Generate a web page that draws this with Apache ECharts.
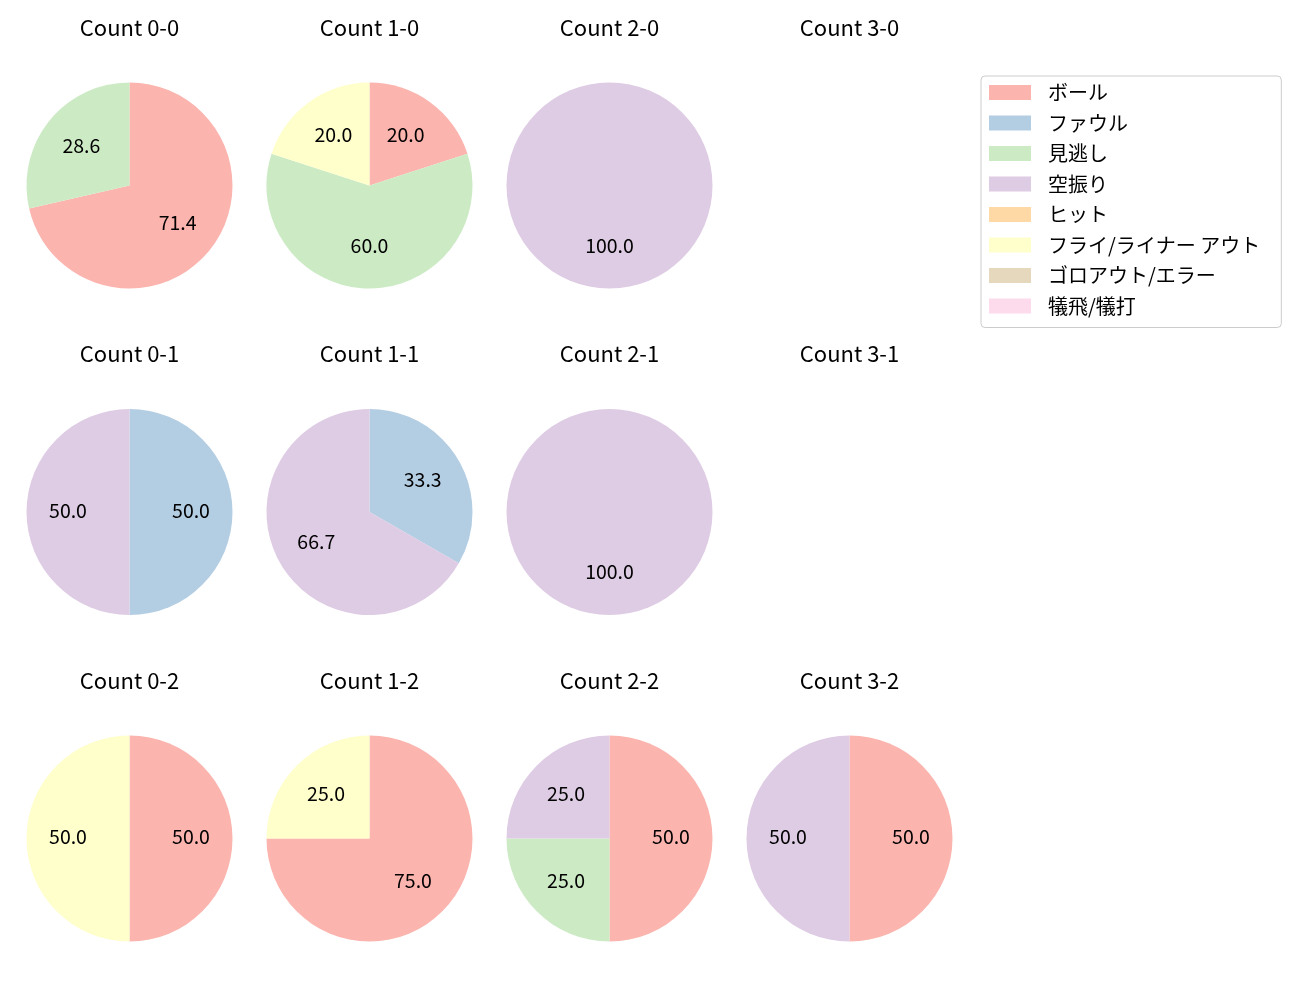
<!DOCTYPE html>
<html><head><meta charset="utf-8">
<script src="https://cdn.jsdelivr.net/npm/echarts@6/dist/echarts.min.js"></script>
<style>html,body{margin:0;padding:0;background:#fff}#c{width:1300px;height:1000px}</style>
</head><body><div id="c"></div>
<script>
const categories = ['ボール','ファウル','見逃し','空振り','ヒット','フライ/ライナー アウト','ゴロアウト/エラー','犠飛/犠打'];
const colors = ['#fbb4ae','#b3cde3','#ccebc5','#decbe4','#fed9a6','#ffffcc','#e5d8bd','#fddaec'];
const counts = ['0-0','1-0','2-0','3-0','0-1','1-1','2-1','3-1','0-2','1-2','2-2','3-2'];
const v00 = [71.4, 0, 28.6, 0, 0, 0, 0, 0];
const v10 = [20.0, 0, 60.0, 0, 0, 20.0, 0, 0];
const v20 = [0, 0, 0, 100.0, 0, 0, 0, 0];
const v30 = [0, 0, 0, 0, 0, 0, 0, 0];
const v01 = [0, 50.0, 0, 50.0, 0, 0, 0, 0];
const v11 = [0, 33.3, 0, 66.7, 0, 0, 0, 0];
const v21 = [0, 0, 0, 100.0, 0, 0, 0, 0];
const v31 = [0, 0, 0, 0, 0, 0, 0, 0];
const v02 = [50.0, 0, 0, 0, 0, 50.0, 0, 0];
const v12 = [75.0, 0, 0, 0, 0, 25.0, 0, 0];
const v22 = [50.0, 0, 25.0, 25.0, 0, 0, 0, 0];
const v32 = [50.0, 0, 0, 50.0, 0, 0, 0, 0];
const values = [v00, v10, v20, v30, v01, v11, v21, v31, v02, v12, v22, v32];

const FONT = '"Noto Sans CJK JP", "Noto Sans", sans-serif';
const colX = [129.5, 369.5, 609.5, 849.5];
const rowY = [185.5, 512, 838.5];
const R = 103;

const titles = [];
const series = [];
counts.forEach((c, i) => {
  const cx = colX[i % 4], cy = rowY[Math.floor(i / 4)];
  titles.push({
    text: 'Count ' + c, left: cx, top: cy - 169, textAlign: 'center', padding: 0,
    textStyle: { fontFamily: FONT, fontSize: 22, fontWeight: 'normal', color: '#000' }
  });
  const data = [];
  values[i].forEach((v, k) => {
    if (v > 0) data.push({ name: categories[k], value: v, itemStyle: { color: colors[k] } });
  });
  if (!data.length) return;
  series.push({
    type: 'pie', center: [cx, cy], radius: [0, R], startAngle: 90, clockwise: true,
    data: data, label: { show: false }, labelLine: { show: false },
    itemStyle: { borderWidth: 0 }, silent: true, animation: false
  });
  series.push({
    type: 'pie', center: [cx, cy], radius: [0, 117], startAngle: 90, clockwise: true,
    data: data.map(d => ({ name: d.name, value: d.value, itemStyle: { color: 'rgba(0,0,0,0)' } })),
    label: { show: true, position: 'inside', formatter: p => p.value.toFixed(1),
      fontFamily: FONT, fontSize: 19.5, color: '#000', offset: [0, -1.5] },
    labelLine: { show: false }, itemStyle: { borderWidth: 0 }, silent: true, animation: false,
    legendHoverLink: false
  });
});
// off-canvas series that carries every category for the legend
series.unshift({
  type: 'pie', center: [-500, -500], radius: [0, 1], silent: true, animation: false,
  label: { show: false }, labelLine: { show: false },
  data: categories.map((n, k) => ({ name: n, value: 1, itemStyle: { color: colors[k] } }))
});

const chart = echarts.init(document.getElementById('c'));
chart.setOption({
  backgroundColor: '#fff',
  animation: false,
  title: titles,
  legend: {
    orient: 'vertical', left: 981, top: 76,
    data: categories.map((n, k) => ({ name: n, itemStyle: { color: colors[k] } })),
    icon: 'rect', itemWidth: 42, itemHeight: 15, itemGap: 10.5,
    padding: [6.5, 21, 11.5, 8],
    borderColor: '#cccccc', borderWidth: 1, borderRadius: 4,
    selectedMode: false,
    textStyle: { fontFamily: FONT, fontSize: 20, color: '#000', lineHeight: 20, padding: [0, 0, 0, 12] }
  },
  series: series
});
</script></body></html>
